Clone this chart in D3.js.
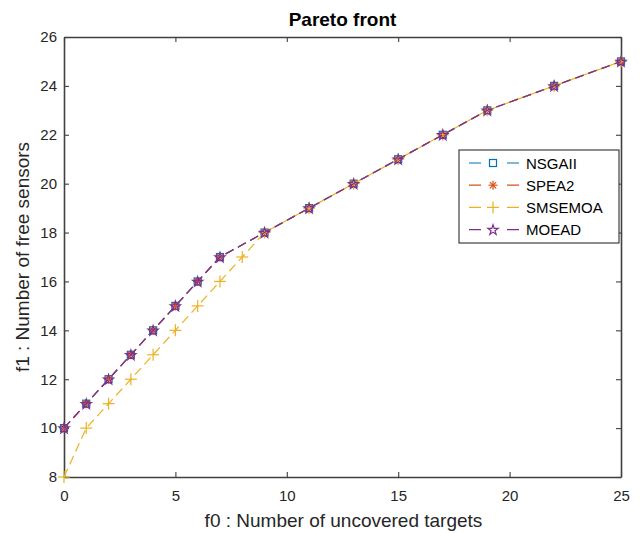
<!DOCTYPE html>
<html>
<head>
<meta charset="utf-8">
<script src="https://cdn.jsdelivr.net/npm/d3@7"></script>
<style>
  html, body { margin: 0; padding: 0; background: #fff; }
  svg { display: block; font-family: "Liberation Sans", Arial, sans-serif; }
</style>
</head>
<body>
<svg id="chart" width="641" height="533"></svg>
<script>
// Objective values of each algorithm's final front
const frontF0 = [0, 1, 2, 3, 4, 5, 6, 7, 9, 11, 13, 15, 17, 19, 22, 25];
const frontF1 = [10, 11, 12, 13, 14, 15, 16, 17, 18, 19, 20, 21, 22, 23, 24, 25];
const smsF0 = [0, 1, 2, 3, 4, 5, 6, 7, 8, 9, 11, 13, 15, 17, 19, 22, 25];
const smsF1 = [8, 10, 11, 12, 13, 14, 15, 16, 17, 18, 19, 20, 21, 22, 23, 24, 25];

const seriesNames = ["NSGAII", "SPEA2", "SMSEMOA", "MOEAD"];
const seriesColors = ["#0072BD", "#D95319", "#EDB120", "#7E2F8E"];
const seriesMarkers = ["square", "asterisk", "plus", "star"];

const xTicks = [0, 5, 10, 15, 20, 25];
const yTicks = [8, 10, 12, 14, 16, 18, 20, 22, 24, 26];

const series = [
  { f0: frontF0, f1: frontF1 },
  { f0: frontF0, f1: frontF1 },
  { f0: smsF0, f1: smsF1 },
  { f0: frontF0, f1: frontF1 }
].map((s, i) => ({
  name: seriesNames[i],
  color: seriesColors[i],
  marker: seriesMarkers[i],
  points: s.f0.map((x, j) => ({ x, y: s.f1[j] }))
}));

const svg = d3.select("#chart");
const margin = { left: 64, right: 20, top: 37, bottom: 56 };
const W = 641, H = 533;
const x = d3.scaleLinear().domain([0, 25]).range([margin.left, W - margin.right]);
const y = d3.scaleLinear().domain([8, 26]).range([H - margin.bottom, margin.top]);
const axisColor = "#404040";
const textColor = "#262626";

// axes with inward ticks on all four sides
function styleAxis(g) {
  g.select(".domain").attr("stroke", axisColor).attr("stroke-width", 1.6);
  g.selectAll(".tick line").attr("stroke", axisColor).attr("stroke-width", 1.1);
  g.selectAll(".tick text").attr("fill", textColor).attr("font-size", 15)
    .attr("font-family", "Liberation Sans, Arial, sans-serif");
}
const tickLen = 5;
svg.append("g").attr("transform", `translate(0,${y(8)})`)
  .call(d3.axisBottom(x).tickValues(xTicks).tickSizeInner(-tickLen).tickSizeOuter(0).tickPadding(13.5))
  .call(styleAxis);
svg.append("g").attr("transform", `translate(0,${y(26)})`)
  .call(d3.axisTop(x).tickValues(xTicks).tickSizeInner(-tickLen).tickSizeOuter(0).tickFormat(""))
  .call(styleAxis);
svg.append("g").attr("transform", `translate(${x(0)},0)`)
  .call(d3.axisLeft(y).tickValues(yTicks).tickSizeInner(-tickLen).tickSizeOuter(0).tickPadding(7))
  .call(styleAxis);
svg.append("g").attr("transform", `translate(${x(25)},0)`)
  .call(d3.axisRight(y).tickValues(yTicks).tickSizeInner(-tickLen).tickSizeOuter(0).tickFormat(""))
  .call(styleAxis);

// marker shapes
function drawMarker(g, type, color, cx, cy) {
  if (type === "square") {
    g.append("rect").attr("x", cx - 3.5).attr("y", cy - 3.5).attr("width", 7).attr("height", 7)
      .attr("fill", "none").attr("stroke", color).attr("stroke-width", 1.2);
  } else if (type === "asterisk") {
    const r = 4.5;
    [[0, 1], [1, 0], [0.7, 0.7], [0.7, -0.7]].forEach(([dx, dy]) => {
      g.append("line").attr("x1", cx - dx * r).attr("y1", cy - dy * r)
        .attr("x2", cx + dx * r).attr("y2", cy + dy * r)
        .attr("stroke", color).attr("stroke-width", 1.2);
    });
  } else if (type === "plus") {
    const r = 6;
    g.append("line").attr("x1", cx - r).attr("y1", cy).attr("x2", cx + r).attr("y2", cy)
      .attr("stroke", color).attr("stroke-width", 1.2);
    g.append("line").attr("x1", cx).attr("y1", cy - r).attr("x2", cx).attr("y2", cy + r)
      .attr("stroke", color).attr("stroke-width", 1.2);
  } else if (type === "star") {
    g.append("path")
      .attr("d", d3.symbol().type(d3.symbolStar).size(32)())
      .attr("transform", `translate(${cx},${cy + 0.5})`)
      .attr("fill", "none").attr("stroke", color).attr("stroke-width", 1.2);
  }
}

const line = d3.line().x(d => x(d.x)).y(d => y(d.y));
const plot = svg.append("g");
series.forEach(s => {
  plot.append("path").datum(s.points).attr("d", line)
    .attr("fill", "none").attr("stroke", s.color).attr("stroke-width", 1.2)
    .attr("stroke-dasharray", "9,5");
  const mg = plot.append("g");
  s.points.forEach(p => drawMarker(mg, s.marker, s.color, x(p.x), y(p.y)));
});

// title and axis labels
svg.append("text").attr("x", (x(0) + x(25)) / 2).attr("y", 26)
  .attr("text-anchor", "middle").attr("font-size", 19).attr("font-weight", "bold")
  .attr("fill", "#000").text("Pareto front");
svg.append("text").attr("x", (x(0) + x(25)) / 2 + 1).attr("y", 527)
  .attr("text-anchor", "middle").attr("font-size", 19).attr("fill", textColor)
  .text("f0 : Number of uncovered targets");
svg.append("text")
  .attr("transform", `translate(29,${(y(8) + y(26)) / 2}) rotate(-90)`)
  .attr("text-anchor", "middle").attr("font-size", 19).attr("fill", textColor)
  .text("f1 : Number of free sensors");

// legend
const lg = svg.append("g").attr("transform", "translate(459,150)");
lg.append("rect").attr("width", 160).attr("height", 93)
  .attr("fill", "#fff").attr("stroke", axisColor).attr("stroke-width", 1.2);
series.forEach((s, i) => {
  const ly = 13 + i * 22.2;
  lg.append("line").attr("x1", 10).attr("x2", 60).attr("y1", ly).attr("y2", ly)
    .attr("stroke", s.color).attr("stroke-width", 1.2).attr("stroke-dasharray", "12,26");
  drawMarker(lg, s.marker, s.color, 34, ly);
  lg.append("text").attr("x", 67).attr("y", ly + 5.5).attr("font-size", 15)
    .attr("fill", "#000").text(s.name);
});
</script>
</body>
</html>
